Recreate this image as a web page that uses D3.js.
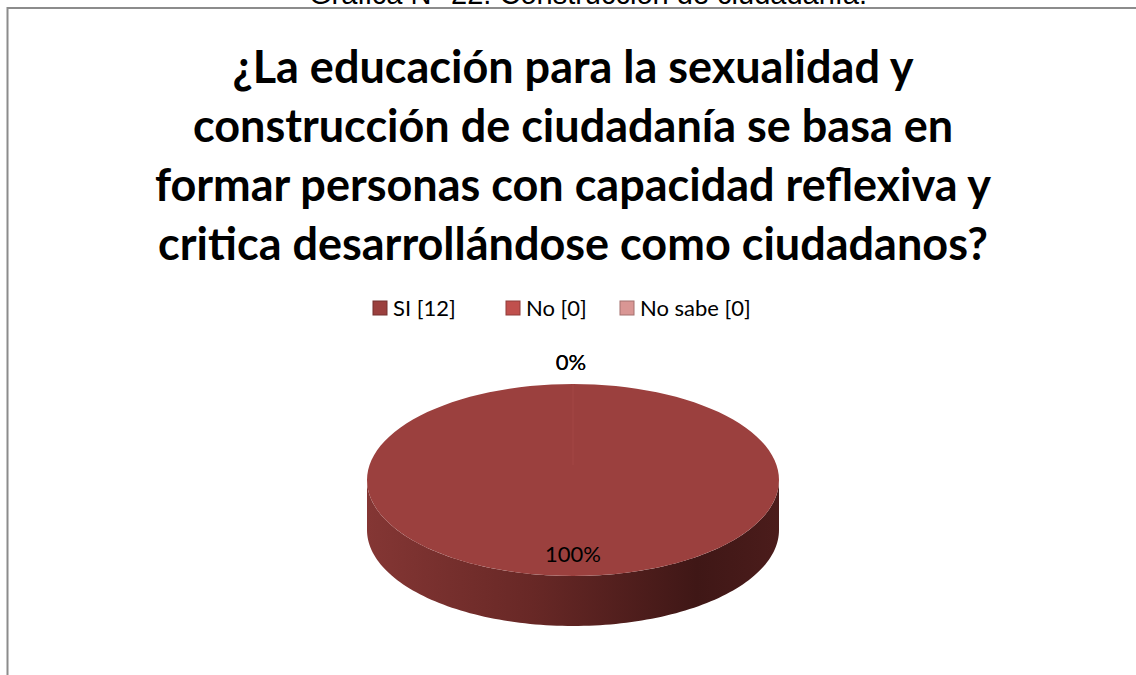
<!DOCTYPE html>
<html lang="es">
<head>
<meta charset="utf-8">
<script src="https://cdn.jsdelivr.net/npm/d3@7/dist/d3.min.js"></script>
<style type="text/css">
body { margin: 0; background: #fff; }
text { font-family: Lato, "Open Sans", sans-serif; }
</style>
</head>
<body>
<script type="text/javascript">

// chart size
var width = 1136;
var height = 675;

// data
var categories = ["SI", "No", "No sabe"];
var counts = [12, 0, 0];
var colors = ["#9b403e", "#c0504d", "#d99694"];
var caption = "Gráfica N° 22. Construcción de ciudadanía.";
var titleLines = [
	"¿La educación para la sexualidad y",
	"construcción de ciudadanía se basa en",
	"formar personas con capacidad reflexiva y",
	"critica desarrollándose como ciudadanos?"
];

var svg = d3.select("body")
	.append("svg")
	.attr("width", width)
	.attr("height", height);

// caption above the frame (cut off at the top, as in the source)
svg.append("text")
	.attr("x", 588)
	.attr("y", 4)
	.attr("text-anchor", "middle")
	.style("font-family", "'Liberation Sans', Arial, sans-serif")
	.style("font-size", "29px")
	.attr("fill", "#000")
	.text(caption);

// chart frame
svg.append("rect")
	.attr("x", 7.5)
	.attr("y", 8)
	.attr("width", 1200)
	.attr("height", 800)
	.attr("fill", "#fff")
	.attr("stroke", "#8c8c8c")
	.attr("stroke-width", 2);

// title
svg.append("g").selectAll("text")
	.data(titleLines)
	.enter()
	.append("text")
	.attr("x", 573)
	.attr("y", function(d, i) { return 83 + i * 59; })
	.attr("text-anchor", "middle")
	.style("font-size", "45px")
	.style("font-weight", "bold")
	.attr("fill", "#000")
	.text(function(d) { return d; });

// legend
var legendX = [373, 506, 620];
var legend = svg.append("g").selectAll("g")
	.data(categories)
	.enter()
	.append("g")
	.attr("transform", function(d, i) { return "translate(" + legendX[i] + ",301)"; });

legend.append("rect")
	.attr("width", 14)
	.attr("height", 14)
	.attr("fill", function(d, i) { return colors[i]; })
	.attr("stroke", function(d, i) { return d3.color(colors[i]).darker(0.8); })
	.attr("stroke-width", 1);

legend.append("text")
	.attr("x", 20)
	.attr("y", 7)
	.attr("dy", ".35em")
	.style("font-size", "22px")
	.attr("fill", "#000")
	.text(function(d, i) { return d + " [" + counts[i] + "]"; });

// 3d pie
var cx = 573, cy = 480, rx = 206, ry = 96, depth = 50;
var total = d3.sum(counts);

var pie = d3.pie().sort(null).value(function(d) { return d; });
var arcs = pie(counts);

function px(a, k) { return cx + rx * k * Math.sin(a); }
function py(a, k) { return cy - ry * k * Math.cos(a); }

function topPath(d) {
	if (d.endAngle - d.startAngle <= 0) return "";
	var p = d3.path();
	p.moveTo(cx, cy);
	var n = 120;
	for (var i = 0; i <= n; i++) {
		var a = d.startAngle + (d.endAngle - d.startAngle) * i / n;
		p.lineTo(px(a, 1), py(a, 1));
	}
	p.closePath();
	return p.toString();
}

// front wall of a slice (only the part facing the viewer)
function sidePath(d) {
	var s = Math.max(d.startAngle, Math.PI / 2);
	var e = Math.min(d.endAngle, 3 * Math.PI / 2);
	if (e <= s) return "";
	var p = d3.path();
	var n = 120, i, a;
	p.moveTo(px(s, 1), py(s, 1));
	for (i = 1; i <= n; i++) {
		a = s + (e - s) * i / n;
		p.lineTo(px(a, 1), py(a, 1));
	}
	for (i = n; i >= 0; i--) {
		a = s + (e - s) * i / n;
		p.lineTo(px(a, 1), py(a, 1) + depth);
	}
	p.closePath();
	return p.toString();
}

var defs = svg.append("defs");
var grad = defs.append("linearGradient")
	.attr("id", "side")
	.attr("gradientUnits", "userSpaceOnUse")
	.attr("x1", cx - rx).attr("x2", cx + rx)
	.attr("y1", 0).attr("y2", 0);
grad.append("stop").attr("offset", "0%").attr("stop-color", "#843634");
grad.append("stop").attr("offset", "40%").attr("stop-color", "#682826");
grad.append("stop").attr("offset", "80%").attr("stop-color", "#3f1716");
grad.append("stop").attr("offset", "100%").attr("stop-color", "#4b1c1b");

var chart = svg.append("g");

chart.selectAll("path.side")
	.data(arcs)
	.enter()
	.append("path")
	.attr("class", "side")
	.attr("d", sidePath)
	.attr("fill", "url(#side)");

chart.selectAll("path.top")
	.data(arcs)
	.enter()
	.append("path")
	.attr("class", "top")
	.attr("d", topPath)
	.attr("fill", function(d, i) { return colors[i]; });

// seam line from the centre to 12 o'clock
chart.append("line")
	.attr("x1", cx).attr("y1", cy - 15)
	.attr("x2", cx).attr("y2", cy - ry)
	.attr("stroke", "#a34644")
	.attr("stroke-width", 1);

// percentage labels
chart.selectAll("text.lbl")
	.data(arcs)
	.enter()
	.append("text")
	.attr("class", "lbl")
	.attr("text-anchor", "middle")
	.attr("x", function(d) {
		if (d.value === 0) return px(d.startAngle, 1.2) - 2;
		return px((d.startAngle + d.endAngle) / 2, 0);
	})
	.attr("y", function(d) {
		if (d.value === 0) return py(d.startAngle, 1.2) - 3;
		return cy + 74;
	})
	.attr("dy", ".35em")
	.style("font-size", "22px")
	.attr("fill", "#000")
	.text(function(d) { return Math.round(d.value / total * 100) + "%"; });

</script>
</body>
</html>
